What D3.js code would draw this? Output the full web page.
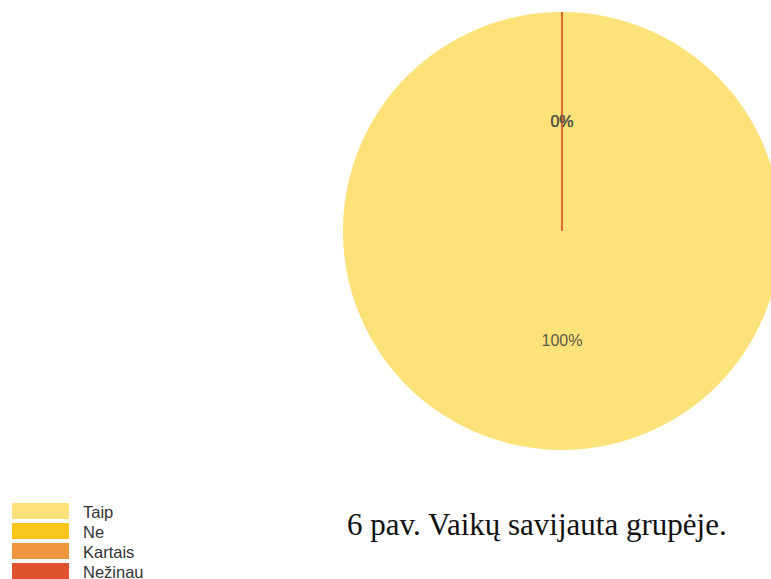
<!DOCTYPE html>
<html>
<head>
<meta charset="utf-8">
<script src="https://cdn.jsdelivr.net/npm/d3@7"></script>
<style>
  body { margin: 0; background: #fff; }
  svg { display: block; }
</style>
</head>
<body>
<div id="graf"></div>
<script>
// datos
categorias = ['Taip', 'Ne', 'Kartais', 'Nežinau']
valores = [100, 0, 0, 0]
etiquetas = ['100%', '0%', '0%', '0%']
colores = ['#FDE27A', '#F8C51C', '#F0963F', '#E0522E']
titulo = '6 pav. Vaikų savijauta grupėje.'

ancho_total = 771
alto_total = 579

svg = d3.select('#graf').append('svg')
        .attr('width', ancho_total)
        .attr('height', alto_total)

radio = 219
cx = 562
cy = 231

color = d3.scaleOrdinal().domain(categorias).range(colores)

data = categorias.map((c, i) => ({ cat: c, val: valores[i], lab: etiquetas[i] }))

pie = d3.pie().sort(null).value(d => d.val)
arc = d3.arc().innerRadius(0).outerRadius(radio)
arcLabel = d3.arc().innerRadius(radio / 2).outerRadius(radio / 2)

g = svg.append('g')
       .attr('transform', `translate(${cx},${cy})`)

arcos = pie(data)

// PORCIONES
g.selectAll('path')
  .data(arcos)
  .enter()
  .append('path')
  .attr('d', arc)
  .attr('fill', d => color(d.data.cat))
  .attr('stroke', d => d.data.val === 0 ? color(d.data.cat) : 'none')
  .attr('stroke-width', 1.5)

// ETIQUETAS
g.selectAll('text.lab')
  .data(arcos)
  .enter()
  .append('text')
  .attr('class', 'lab')
  .attr('transform', d => `translate(${arcLabel.centroid(d)})`)
  .attr('text-anchor', 'middle')
  .attr('dy', '0.35em')
  .style('font-family', 'Arial, "Liberation Sans", sans-serif')
  .style('font-size', '16px')
  .attr('fill', '#5a5a4a')
  .text(d => d.data.lab)

// LEYENDAS
legend = svg.append('g')
    .attr('class', 'legend')
    .selectAll('g')
    .data(categorias)
    .enter().append('g')
    .attr('transform', (d, i) => `translate(12,${503 + i * 20})`)

legend.append('rect')
    .attr('width', 57)
    .attr('height', 16)
    .attr('fill', d => color(d))

legend.append('text')
    .attr('x', 71)
    .attr('y', 9)
    .attr('dy', '0.35em')
    .style('font-family', 'Arial, "Liberation Sans", sans-serif')
    .style('font-size', '16.5px')
    .attr('fill', '#333')
    .text(d => d)

// TITULO
svg.append('text')
   .attr('x', 347)
   .attr('y', 535)
   .style('font-family', '"Liberation Serif", "Times New Roman", serif')
   .style('font-size', '31px')
   .attr('fill', '#111')
   .text(titulo)
</script>
</body>
</html>
